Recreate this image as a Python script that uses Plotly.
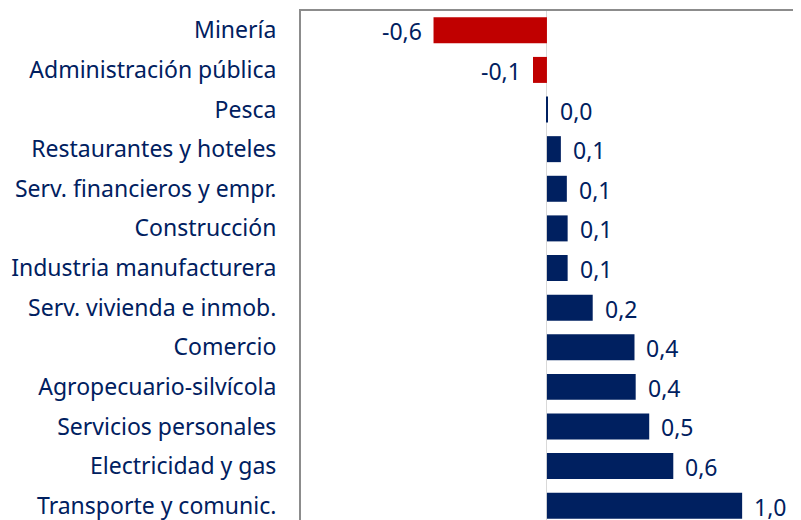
import plotly.graph_objects as go

categories = [
    "Minería",
    "Administración pública",
    "Pesca",
    "Restaurantes y hoteles",
    "Serv. financieros y empr.",
    "Construcción",
    "Industria manufacturera",
    "Serv. vivienda e inmob.",
    "Comercio",
    "Agropecuario-silvícola",
    "Servicios personales",
    "Electricidad y gas",
    "Transporte y comunic.",
]
values = [-0.57, -0.07, 0.005, 0.07, 0.10, 0.104, 0.104, 0.23, 0.44, 0.446, 0.514, 0.635, 0.981]

NAVY = "#002060"
RED = "#C00000"
TEXT = "#002060"
FONT = "Noto Sans"

colors = [RED if v < 0 else NAVY for v in values]
labels = [f"{v:.1f}".replace(".", ",") for v in values]

fig = go.Figure()
fig.add_trace(go.Bar(
    x=values, y=categories, orientation="h",
    marker=dict(color=colors, line=dict(width=0)),
    hoverinfo="skip",
))

for c, v, t in zip(categories, values, labels):
    fig.add_annotation(
        x=v, y=c, text=t, showarrow=False,
        xanchor="left" if v >= 0 else "right",
        xshift=10 if v >= 0 else -10,
        yshift=-1,
        font=dict(family=FONT, size=23, color=TEXT),
    )

fig.update_layout(
    width=801, height=520,
    margin=dict(l=293, r=0, t=3, b=0),
    paper_bgcolor="white", plot_bgcolor="white",
    showlegend=False,
    bargap=0.344,
    xaxis=dict(
        range=[-1.236, 1.317], side="top",
        showline=True, linecolor="#8C8C8C", linewidth=2,
        showgrid=False, showticklabels=False, ticks="",
        zeroline=True, zerolinecolor="#D9D9D9", zerolinewidth=1,
        fixedrange=True,
    ),
    yaxis=dict(
        type="category", range=[12.562, -0.487],
        showline=True, linecolor="#8C8C8C", linewidth=2,
        showgrid=False, ticks="", ticklabelstandoff=18,
        tickfont=dict(family=FONT, size=23, color=TEXT),
        fixedrange=True,
    ),
)

fig.write_html("out.html")
